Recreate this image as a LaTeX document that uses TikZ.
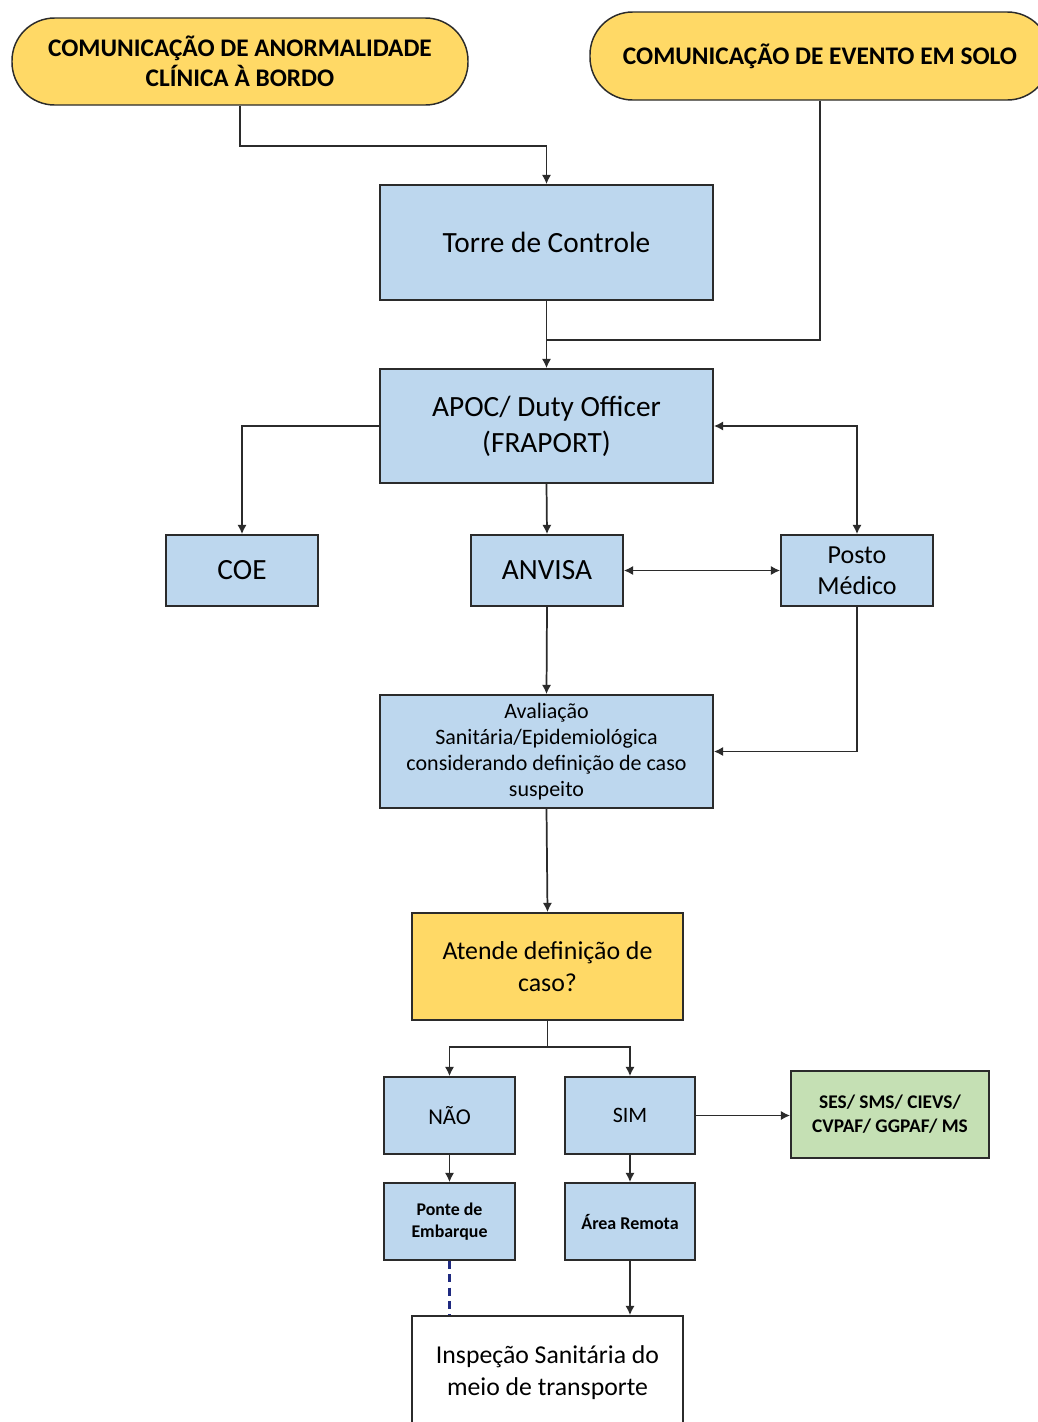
\documentclass[tikz,border=0pt]{standalone}
\usepackage{fontspec}
\setmainfont{Carlito}
\usetikzlibrary{arrows.meta}
\definecolor{boxblue}{HTML}{BDD7EE}
\definecolor{boxyellow}{HTML}{FFD966}
\definecolor{boxgreen}{HTML}{C5E0B4}
\definecolor{linegray}{HTML}{2B2B2B}
\definecolor{dashblue}{HTML}{1F2A80}
\tikzset{
  bbox/.style={draw=linegray, line width=1.3pt, fill=boxblue, inner sep=2pt, align=center, anchor=center},
  term/.style={draw=linegray, line width=1.1pt, fill=boxyellow, rounded corners=32pt, align=center, font=\bfseries\fontsize{19}{22.5}\selectfont},
  conn/.style={draw=linegray, line width=1.3pt},
  arr/.style={conn, -{Latex[length=7pt,width=7pt]}},
  darr/.style={conn, {Latex[length=7pt,width=7pt]}-{Latex[length=7pt,width=7pt]}}
}
\begin{document}
\begin{tikzpicture}[x=0.75pt,y=-0.75pt]
\useasboundingbox (0,0) rectangle (1038,1422);
\fill[white] (0,0) rectangle (1038,1422);

\node[term, minimum width=342pt, minimum height=65.25pt] (t1) at (240,61.5) {COMUNICAÇÃO DE ANORMALIDADE\\CLÍNICA À BORDO};
\node[term, minimum width=345pt, minimum height=66pt] (t2) at (820,56) {COMUNICAÇÃO DE EVENTO EM SOLO};

\node[bbox, minimum width=249.75pt, minimum height=86.25pt, font=\fontsize{22}{26}\selectfont] (torre) at (546.5,242.5) {Torre de Controle};
\node[bbox, minimum width=249.75pt, minimum height=85.5pt, font=\fontsize{22}{27}\selectfont] (apoc) at (546.5,426) {APOC/ Duty Officer\\(FRAPORT)};
\node[bbox, minimum width=114pt, minimum height=53.25pt, font=\fontsize{22}{26}\selectfont] (coe) at (242,570.5) {COE};
\node[bbox, minimum width=114pt, minimum height=53.25pt, font=\fontsize{22}{26}\selectfont] (anvisa) at (547,570.5) {ANVISA};
\node[bbox, minimum width=114pt, minimum height=53.25pt, font=\fontsize{19.5}{23}\selectfont] (posto) at (857,570.5) {Posto\\Médico};
\node[bbox, minimum width=249.75pt, minimum height=84.75pt, font=\fontsize{16.5}{19.5}\selectfont] (aval) at (546.5,751.5) {Avaliação\\Sanitária/Epidemiológica\\considerando definição de caso\\suspeito};
\node[bbox, fill=boxyellow, minimum width=203.25pt, minimum height=80.25pt, font=\fontsize{19.4}{23.5}\selectfont] (atende) at (547.5,966.5) {Atende definição de\\caso?};
\node[bbox, minimum width=98.25pt, minimum height=57.75pt, font=\fontsize{17}{20}\selectfont] (nao) at (449.5,1115.5) {NÃO};
\node[bbox, minimum width=97.5pt, minimum height=57.75pt, font=\fontsize{16.5}{20}\selectfont] (sim) at (630,1115.5) {SIM};
\node[bbox, fill=boxgreen, minimum width=148.5pt, minimum height=65.25pt, font=\bfseries\fontsize{14.5}{18}\selectfont] (ses) at (890,1114.5) {SES/ SMS/ CIEVS/\\CVPAF/ GGPAF/ MS};
\node[bbox, minimum width=98.25pt, minimum height=57.75pt, font=\bfseries\fontsize{13.4}{16.5}\selectfont] (ponte) at (449.5,1221.5) {Ponte de\\Embarque};
\node[bbox, minimum width=97.5pt, minimum height=57.75pt, font=\bfseries\fontsize{13.5}{16.5}\selectfont] (area) at (630,1221.5) {Área Remota};
\node[bbox, fill=white, minimum width=203.25pt, minimum height=85.5pt, font=\fontsize{19.3}{24}\selectfont] (insp) at (547.5,1373) {Inspeção Sanitária do\\meio de transporte};

\coordinate (j1) at (546.5,340);
\coordinate (j2) at (547.5,1047);

\draw[arr] (t1.south) -- ++(0,40) -| (torre.north);
\draw[conn] (t2.south) |- (j1);
\draw[arr] (torre.south) -- (apoc.north);
\draw[arr] (apoc.west) -| (coe.north);
\draw[arr] (apoc.south) -- (anvisa.north);
\draw[darr] (apoc.east) -| (posto.north);
\draw[darr] (anvisa.east) -- (posto.west);
\draw[arr] (anvisa.south) -- (aval.north);
\draw[arr] (posto.south) |- (aval.east);
\draw[arr] (aval.south) -- (atende.north);
\draw[conn] (atende.south) -- (j2);
\draw[arr] (j2) -| (nao.north);
\draw[arr] (j2) -| (sim.north);
\draw[arr] (sim.east) -- (sim.east -| ses.west);
\draw[arr] (nao.south) -- (ponte.north);
\draw[arr] (sim.south) -- (area.north);
\draw[draw=dashblue, line width=1.6pt, dash pattern=on 6pt off 4pt] (ponte.south) -- (ponte.south |- insp.north);
\draw[arr] (area.south) -- (area.south |- insp.north);
\end{tikzpicture}
\end{document}
